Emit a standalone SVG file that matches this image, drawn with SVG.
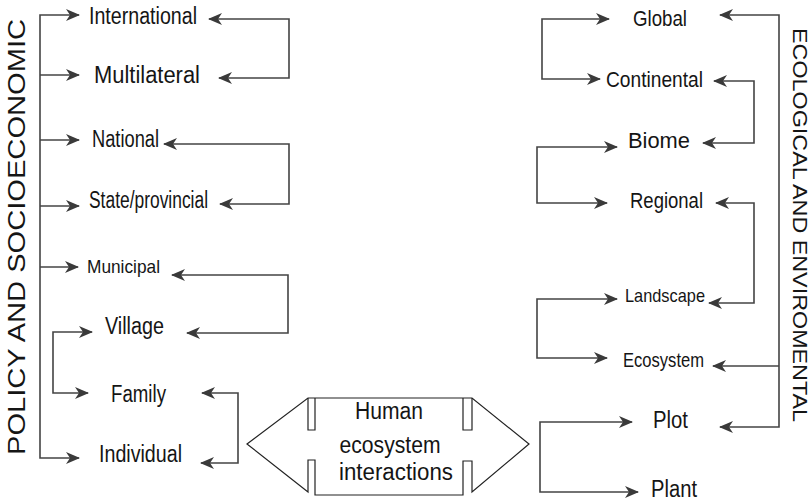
<svg xmlns="http://www.w3.org/2000/svg" width="812" height="502" viewBox="0 0 812 502">
  <style>
    .lbl { font-family: "Liberation Sans", Arial, sans-serif; fill: #151515; }
    .side { font-family: "Liberation Sans", Arial, sans-serif; fill: #151515; }
    .conn { fill: none; stroke: #444; stroke-width: 1.6; marker-end: url(#head); }
    .both { marker-start: url(#head); }
    .plain { fill: none; stroke: #222; stroke-width: 1.2; }
    .hub { fill: #fff; stroke: #222; stroke-width: 1.2; stroke-linejoin: miter; }
  </style>
  <defs>
    <marker id="head" markerUnits="userSpaceOnUse" markerWidth="14" markerHeight="12" refX="13" refY="6" orient="auto-start-reverse">
      <path d="M0,0 L14,6 L0,12 L4,6 Z" fill="#3a3a3a"/>
    </marker>
  </defs>
  <rect width="812" height="502" fill="#fff"/>

  <!-- axis titles -->
  <text id="policy-title" class="side" font-size="23" text-anchor="middle" transform="translate(25,237) rotate(-90)" textLength="436" lengthAdjust="spacingAndGlyphs">POLICY AND SOCIOECONOMIC</text>
  <text id="eco-title" class="side" font-size="21" text-anchor="middle" transform="translate(793,225) rotate(90)" textLength="394" lengthAdjust="spacingAndGlyphs">ECOLOGICAL AND ENVIROMENTAL</text>

  <!-- connectors -->
  <g id="connectors">
    <!-- policy scale -->
    <path class="conn both" d="M79,15 H40 V458 H79"/>
    <path class="conn" d="M40,75 H79"/>
    <path class="conn" d="M40,140 H79"/>
    <path class="conn" d="M40,206 H79"/>
    <path class="conn" d="M40,267 H78"/>
    <path class="conn both" d="M92,332 H53 V393 H88"/>
    <path class="conn both" d="M209,19 H289 V78 H219"/>
    <path class="conn both" d="M164,144 H289 V204 H220"/>
    <path class="conn both" d="M172,275 H288 V333 H187"/>
    <path class="conn both" d="M202,393 H238 V463 H201"/>
    <!-- ecological scale -->
    <path class="conn both" d="M720,15 H779 V427 H720"/>
    <path class="conn" d="M779,366 H713"/>
    <path class="conn both" d="M609,19 H542 V79 H600"/>
    <path class="conn both" d="M714,81 H754 V143 H703"/>
    <path class="conn both" d="M617,147 H537 V203 H607"/>
    <path class="conn both" d="M716,203 H754 V303 H709"/>
    <path class="conn both" d="M617,299 H537 V358 H607"/>
    <path class="conn both" d="M632,422 H540 V492 H638"/>
  </g>

  <!-- policy and socioeconomic levels -->
  <g id="international"><text class="lbl" x="89" y="24" font-size="23" textLength="108" lengthAdjust="spacingAndGlyphs">International</text></g>
  <g id="multilateral"><text class="lbl" x="94" y="83" font-size="23" textLength="106" lengthAdjust="spacingAndGlyphs">Multilateral</text></g>
  <g id="national"><text class="lbl" x="92" y="147" font-size="23" textLength="67" lengthAdjust="spacingAndGlyphs">National</text></g>
  <g id="state"><text class="lbl" x="89" y="208" font-size="23" textLength="119" lengthAdjust="spacingAndGlyphs">State/provincial</text></g>
  <g id="municipal"><text class="lbl" x="87" y="273" font-size="19" textLength="73" lengthAdjust="spacingAndGlyphs">Municipal</text></g>
  <g id="village"><text class="lbl" x="105" y="334" font-size="23" textLength="59" lengthAdjust="spacingAndGlyphs">Village</text></g>
  <g id="family"><text class="lbl" x="111" y="402" font-size="23" textLength="55" lengthAdjust="spacingAndGlyphs">Family</text></g>
  <g id="individual"><text class="lbl" x="99" y="462" font-size="23" textLength="83" lengthAdjust="spacingAndGlyphs">Individual</text></g>

  <!-- ecological and environmental levels -->
  <g id="global"><text class="lbl" x="633" y="26" font-size="22" textLength="54" lengthAdjust="spacingAndGlyphs">Global</text></g>
  <g id="continental"><text class="lbl" x="606" y="87" font-size="22" textLength="97" lengthAdjust="spacingAndGlyphs">Continental</text></g>
  <g id="biome"><text class="lbl" x="628" y="148" font-size="22" textLength="62" lengthAdjust="spacingAndGlyphs">Biome</text></g>
  <g id="regional"><text class="lbl" x="630" y="208" font-size="22" textLength="73" lengthAdjust="spacingAndGlyphs">Regional</text></g>
  <g id="landscape"><text class="lbl" x="625" y="302" font-size="19" textLength="80" lengthAdjust="spacingAndGlyphs">Landscape</text></g>
  <g id="ecosystem"><text class="lbl" x="623" y="367" font-size="21" textLength="81" lengthAdjust="spacingAndGlyphs">Ecosystem</text></g>
  <g id="plot"><text class="lbl" x="653" y="428" font-size="23" textLength="35" lengthAdjust="spacingAndGlyphs">Plot</text></g>
  <g id="plant"><text class="lbl" x="651" y="497" font-size="23" textLength="46" lengthAdjust="spacingAndGlyphs">Plant</text></g>

  <!-- central double-headed block -->
  <g id="interactions">
    <path class="hub" d="M247,444 L308,398 H472 L529,444 L472,492 V461 H463 V495 H315 V460 H308 V492 Z"/>
    <path class="plain" d="M308,398 V430 H315 V398 M463,398 V430 H472 V398"/>
    <text class="lbl" x="389" y="419" font-size="23" text-anchor="middle" textLength="68" lengthAdjust="spacingAndGlyphs">Human</text>
    <text class="lbl" x="390" y="453" font-size="23" text-anchor="middle" textLength="101" lengthAdjust="spacingAndGlyphs">ecosystem</text>
    <text class="lbl" x="396" y="480" font-size="23" text-anchor="middle" textLength="114" lengthAdjust="spacingAndGlyphs">interactions</text>
  </g>
</svg>
